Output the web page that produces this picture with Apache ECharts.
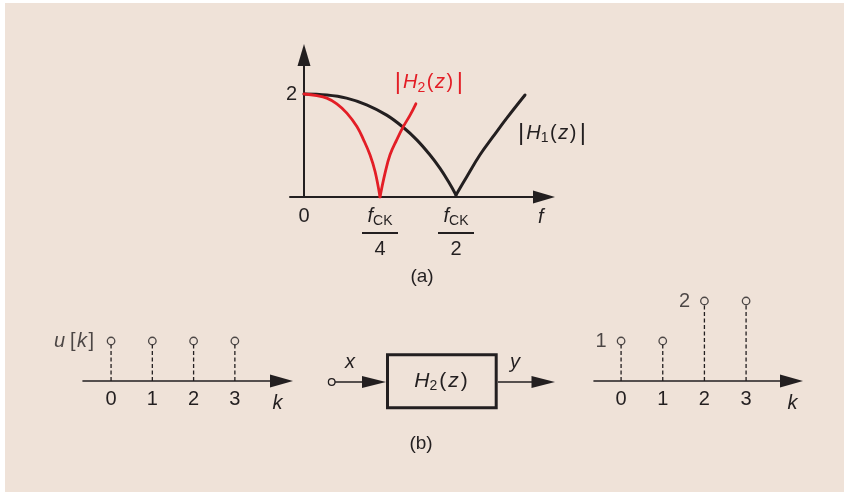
<!DOCTYPE html>
<html>
<head>
<meta charset="utf-8">
<script src="https://cdn.jsdelivr.net/npm/echarts@6/dist/echarts.min.js"></script>
<style>
  html, body { margin: 0; padding: 0; background: #ffffff; }
  #panel { position: absolute; left: 5px; top: 3px; width: 839px; height: 489px; background: #efe2d8; }
  #chart { position: absolute; left: 0; top: 0; width: 844px; height: 492px; }
</style>
</head>
<body>
<div id="panel"></div>
<div id="chart"></div>
<script>
// Magnitude responses, f in units of f_CK: each branch runs up to / away from its notch
const h2Left  = [[0, 2.0], [0.042, 1.97], [0.075, 1.92], [0.108, 1.81], [0.141, 1.63], [0.174, 1.37], [0.196, 1.11], [0.217, 0.82], [0.234, 0.49], [0.25, 0]];
const h2Right = [[0.25, 0], [0.266, 0.45], [0.283, 0.82], [0.305, 1.11], [0.327, 1.37], [0.349, 1.59], [0.368, 1.81]];
const h1Left  = [[0, 2.0], [0.075, 1.98], [0.14, 1.92], [0.206, 1.79], [0.272, 1.59], [0.327, 1.35], [0.371, 1.11], [0.414, 0.82], [0.447, 0.56], [0.475, 0.30], [0.5, 0.04]];
const h1Right = [[0.5, 0.04], [0.535, 0.39], [0.579, 0.82], [0.623, 1.18], [0.667, 1.53], [0.727, 1.98]];

// Frequency ticks (0, f_CK/4, f_CK/2) and the magnitude tick
const fTicks = [0, 0.25, 0.5];
const fTickDenoms = ['', '4', '2'];
const magTicks = [2];

// Step input u[k] and the filter output y[k]
const kTicks = [0, 1, 2, 3];
const uValues = [1, 1, 1, 1];
const yValues = [1, 1, 2, 2];

const INK = '#231f20';
const RED = '#e31e26';
const BG = '#efe2d8';
const FONT = '"Liberation Sans", Arial, Helvetica, sans-serif';
const FS = 20;

const chart = echarts.init(document.getElementById('chart'), null, { renderer: 'canvas' });

const fracRich = {
  f: { fontFamily: FONT, fontStyle: 'italic', fontSize: FS, lineHeight: 24, color: INK },
  s: { fontFamily: FONT, fontSize: 14, lineHeight: 14, verticalAlign: 'bottom', color: INK },
  bar: { width: 36, height: 2, lineHeight: 10, backgroundColor: INK, fontSize: 2 },
  d: { fontFamily: FONT, fontSize: FS, lineHeight: 22, color: INK }
};

function magLabel(sub, color) {
  const c = color;
  return {
    formatter: '{p||}{i|H}{u|' + sub + '}{n|(}{i|z}{n|)}{p||}',
    rich: {
      p: { fontFamily: FONT, fontSize: 24, color: c, padding: [0, 2, 0, 2] },
      i: { fontFamily: FONT, fontStyle: 'italic', fontSize: FS, lineHeight: 24, color: c },
      u: { fontFamily: FONT, fontSize: 14, lineHeight: 14, verticalAlign: 'bottom', color: c },
      n: { fontFamily: FONT, fontSize: FS, lineHeight: 24, color: c, padding: [0, 1.5, 0, 1.5] }
    }
  };
}

function branch(data, color, width, endLabel) {
  const s = {
    type: 'line', xAxisIndex: 0, yAxisIndex: 0, data: data,
    smooth: 0.4, showSymbol: false, symbol: 'none',
    lineStyle: { color: color, width: width, cap: 'round', join: 'round' },
    z: color === RED ? 4 : 3, silent: true, animation: false
  };
  if (endLabel) {
    s.endLabel = Object.assign({ show: true, distance: 0, offset: endLabel.offset, align: 'left', verticalAlign: 'middle' }, endLabel.label);
  }
  return s;
}

function stems(axisIdx, values) {
  return {
    type: 'custom', xAxisIndex: axisIdx, yAxisIndex: axisIdx,
    data: values.map((v, i) => [kTicks[i], v]),
    renderItem(params, api) {
      const p0 = api.coord([api.value(0), 0]);
      const p1 = api.coord([api.value(0), api.value(1)]);
      return {
        type: 'line',
        shape: { x1: p0[0], y1: p0[1], x2: p1[0], y2: p1[1] + 4 },
        style: { stroke: INK, lineWidth: 1.3, lineDash: [4, 2.5] }
      };
    },
    silent: true, animation: false, z: 2
  };
}

function kAxis(gridIdx, min, max, gap) {
  return {
    gridIndex: gridIdx, type: 'value', min: min, max: max,
    axisLine: { onZero: true, symbol: ['none', 'triangle'], symbolSize: [13, 23], lineStyle: { color: INK, width: 1.6 } },
    axisTick: { show: false }, splitLine: { show: false },
    axisLabel: { customValues: kTicks, fontFamily: FONT, fontSize: FS, color: INK, margin: 8 },
    name: 'k', nameLocation: 'end', nameGap: gap,
    nameTextStyle: { fontFamily: FONT, fontStyle: 'italic', fontSize: FS, color: INK, verticalAlign: 'top', padding: [12, 0, 0, 0] }
  };
}

const option = {
  backgroundColor: 'transparent',
  animation: false,
  grid: [
    { left: 290, right: 300, top: 55, bottom: 295 },
    { left: 83, right: 562.5, top: 281, bottom: 111 },
    { left: 594, right: 52.5, top: 281, bottom: 111 }
  ],
  xAxis: [
    {
      gridIndex: 0, type: 'value', min: -14 / 304, max: 240 / 304,
      axisLine: { onZero: true, symbol: ['none', 'triangle'], symbolSize: [13, 22], lineStyle: { color: INK, width: 2 } },
      axisTick: { show: false }, splitLine: { show: false },
      axisLabel: {
        customValues: fTicks, margin: 7, color: INK, fontFamily: FONT, fontSize: FS, lineHeight: 24,
        formatter(v) {
          const i = fTicks.indexOf(v);
          if (i <= 0) return String(v);
          return '{f|f}{s|CK}\n{bar| }\n{d|' + fTickDenoms[i] + '}';
        },
        rich: fracRich
      },
      name: 'f', nameLocation: 'end', nameGap: -6,
      nameTextStyle: { fontFamily: FONT, fontStyle: 'italic', fontSize: FS, color: INK, verticalAlign: 'top', padding: [10, 0, 0, 0] }
    },
    kAxis(1, -0.68, 4.13, -9),
    kAxis(2, -0.65, 4.09, -4)
  ],
  yAxis: [
    {
      gridIndex: 0, type: 'value', min: 0, max: 142 / 51.5,
      axisLine: { onZero: true, symbol: ['none', 'triangle'], symbolSize: [13, 22], lineStyle: { color: INK, width: 2 } },
      axisTick: { show: false }, splitLine: { show: false },
      axisLabel: { customValues: magTicks, margin: -7, color: INK, fontFamily: FONT, fontSize: FS }
    },
    { gridIndex: 1, type: 'value', min: 0, max: 2.5, show: false },
    { gridIndex: 2, type: 'value', min: 0, max: 2.5, show: false }
  ],
  series: [
    branch(h1Left, INK, 3),
    branch(h1Right, INK, 3, { offset: [-9, 38], label: magLabel('1', INK) }),
    branch(h2Left, RED, 2.8),
    branch(h2Right, RED, 2.8, { offset: [-23, -21], label: magLabel('2', RED) }),

    stems(1, uValues),
    {
      type: 'scatter', xAxisIndex: 1, yAxisIndex: 1,
      data: uValues.map((v, i) => i === 0
        ? { value: [kTicks[i], v], label: { show: true, position: 'left', distance: 11,
            formatter: '{i|u} {n|[}{i|k}{n|]}',
            rich: { i: { fontFamily: FONT, fontStyle: 'italic', fontSize: FS, color: INK }, n: { fontFamily: FONT, fontSize: FS, color: INK, padding: [0, 1.5, 0, 1.5] } } } }
        : [kTicks[i], v]),
      symbol: 'circle', symbolSize: 7.5,
      itemStyle: { color: BG, borderColor: INK, borderWidth: 1.3 },
      z: 5, silent: true
    },

    stems(2, yValues),
    {
      type: 'scatter', xAxisIndex: 2, yAxisIndex: 2,
      data: yValues.map((v, i) => (i === 0 || i === 2)
        ? { value: [kTicks[i], v], label: { show: true, position: 'left', distance: 10, formatter: (p) => String(p.value[1]), fontFamily: FONT, fontSize: FS, color: INK } }
        : [kTicks[i], v]),
      symbol: 'circle', symbolSize: 7.5,
      itemStyle: { color: BG, borderColor: INK, borderWidth: 1.3 },
      z: 5, silent: true
    }
  ],
  graphic: [
    // Block diagram x -> H2(z) -> y
    { type: 'line', shape: { x1: 335, y1: 382, x2: 365, y2: 382 }, style: { stroke: INK, lineWidth: 1.5 } },
    { type: 'circle', shape: { cx: 331.7, cy: 382, r: 3.3 }, style: { fill: BG, stroke: INK, lineWidth: 1.3 } },
    { type: 'polygon', shape: { points: [[362, 376], [386, 382], [362, 388]] }, style: { fill: INK } },
    { type: 'rect', shape: { x: 387.5, y: 354.8, width: 108.7, height: 53 }, style: { fill: 'none', stroke: INK, lineWidth: 3 } },
    { type: 'line', shape: { x1: 498, y1: 382, x2: 535, y2: 382 }, style: { stroke: INK, lineWidth: 1.5 } },
    { type: 'polygon', shape: { points: [[531.5, 376], [555, 382], [531.5, 388]] }, style: { fill: INK } },
    { type: 'text', x: 442, y: 381, style: {
        text: '{i|H}{u|2}{n|(}{i|z}{n|)}', align: 'center', verticalAlign: 'middle',
        rich: {
          i: { fontFamily: FONT, fontStyle: 'italic', fontSize: 21, lineHeight: 24, fill: INK },
          u: { fontFamily: FONT, fontSize: 14, lineHeight: 14, verticalAlign: 'bottom', fill: INK },
          n: { fontFamily: FONT, fontSize: 21, lineHeight: 24, fill: INK, padding: [0, 2, 0, 2] }
        } } },
    { type: 'text', x: 350, y: 362, style: { text: 'x', fontFamily: FONT, fontStyle: 'italic', fontSize: FS, fill: INK, align: 'center', verticalAlign: 'middle' } },
    { type: 'text', x: 515, y: 362, style: { text: 'y', fontFamily: FONT, fontStyle: 'italic', fontSize: FS, fill: INK, align: 'center', verticalAlign: 'middle' } },
    // Panel captions
    { type: 'text', x: 422, y: 277, style: { text: '(a)', fontFamily: FONT, fontSize: 19, fill: INK, align: 'center', verticalAlign: 'middle' } },
    { type: 'text', x: 421, y: 444, style: { text: '(b)', fontFamily: FONT, fontSize: 19, fill: INK, align: 'center', verticalAlign: 'middle' } }
  ]
};

chart.setOption(option);
</script>
</body>
</html>
